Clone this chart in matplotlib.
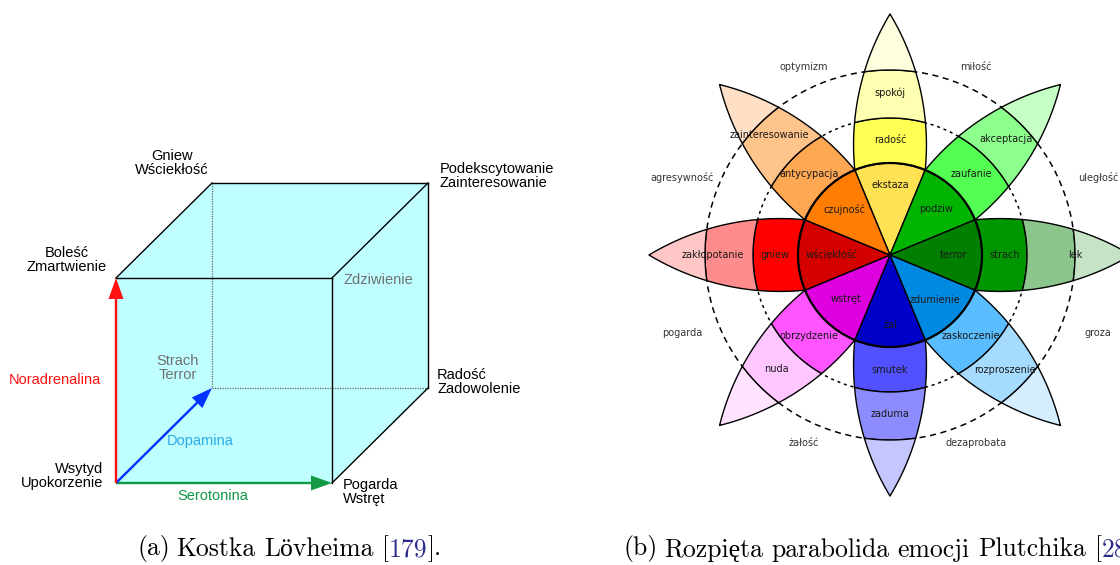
import numpy as np
import matplotlib
matplotlib.use("Agg")
import matplotlib.pyplot as plt
from matplotlib.patches import Polygon, Circle

# ── (a) Lövheim cube: corner (serotonina, dopamina, noradrenalina) -> emotions
CUBE_CORNERS = [(0, 0, 0), (1, 0, 0), (0, 1, 0), (0, 0, 1),
                (1, 1, 0), (0, 1, 1), (1, 0, 1), (1, 1, 1)]
CUBE_LABELS = ["Wsytyd\nUpokorzenie", "Pogarda\nWstręt", "Strach\nTerror",
               "Boleść\nZmartwienie", "Radość\nZadowolenie", "Gniew\nWściekłość",
               "Zdziwienie", "Podekscytowanie\nZainteresowanie"]
AXIS_NAMES = ["Serotonina", "Dopamina", "Noradrenalina"]

# ── (b) Plutchik wheel: petals by angle (deg), labels inner -> outer
PETAL_ANGLES = [90, 45, 0, -45, -90, -135, 180, 135]
PETAL_LABELS = [
    ["ekstaza", "radość", "spokój"],
    ["podziw", "zaufanie", "akceptacja"],
    ["terror", "strach", "lęk"],
    ["zdumienie", "zaskoczenie", "rozproszenie"],
    ["żal", "smutek", "zaduma"],
    ["wstręt", "obrzydzenie", "nuda"],
    ["wściekłość", "gniew", "zakłopotanie"],
    ["czujność", "antycypacja", "zainteresowanie"],
]
PETAL_COLORS = [
    ["#ffe154", "#ffff54", "#ffffb1", "#ffffe0"],
    ["#00b400", "#54ff54", "#8cff8c", "#c6ffc6"],
    ["#007f00", "#009600", "#8cc68c", "#c6e3c6"],
    ["#0089e0", "#59bdff", "#a5dbff", "#d5eeff"],
    ["#0000c8", "#5151ff", "#8c8cff", "#c6c6ff"],
    ["#de00de", "#ff54ff", "#ffc6ff", "#ffe3ff"],
    ["#d40000", "#ff0000", "#ff8c8c", "#ffc6c6"],
    ["#ff7d00", "#ffa854", "#ffc48c", "#ffe0c6"],
]
DYAD_ANGLES = [112.5, 67.5, 22.5, -22.5, -67.5, -112.5, -157.5, 157.5]
DYAD_LABELS = ["optymizm", "miłość", "uległość", "groza",
               "dezaprobata", "żałość", "pogarda", "agresywność"]

CAPTION_A = [("(a)", "black"), ("Kostka", "black"), ("Lövheima", "black"),
             ("[", "black"), ("179", "#2b2b8c"), ("].", "black")]
CAPTION_B = [("(b)", "black"), ("Rozpięta", "black"), ("parabolida", "black"),
             ("emocji", "black"), ("Plutchika", "black"),
             ("[", "black"), ("28", "#2b2b8c"), ("].", "black")]

# ── layout (pixels)
W, H = 1120, 565
ORIGIN = (116, 483)
STEP_S, STEP_N, DEPTH = 216, 205, (96, -95)
CX, CY = 890, 255
RINGS = [0, 92, 137, 185, 241]
INNER_R = [70, 65, 63, 64, 70, 62, 58, 64]
MID_R = 115
OUTER_R = [162, 164, 185, 162, 159, 161, 177, 170]
DYAD_RX, DYAD_RY = 225, 203
UC = 110          # centre (along petal axis) of the petal edge arc

SANS = "Liberation Sans"
WHEEL_FONT = "DejaVu Sans"
SERIF = ["cmr10", "Liberation Serif"]
CAP_SIZE = 18.5


def project(c):
    s, d, n = c
    return (ORIGIN[0] + STEP_S * s + DEPTH[0] * d,
            ORIGIN[1] - STEP_N * n + DEPTH[1] * d)


# petal edge: straight wedge inside the core, then a circular arc to the tip
half0 = np.radians(22.5)
u0, v0 = RINGS[1] * np.cos(half0), RINGS[1] * np.sin(half0)
tip = RINGS[-1]
vc = ((u0 - UC) ** 2 + v0 ** 2 - (tip - UC) ** 2) / (2 * v0)
rc = np.hypot(tip - UC, vc)
uu = np.linspace(u0, tip, 500)
vv = vc + np.sqrt(np.clip(rc ** 2 - (uu - UC) ** 2, 0, None))
edge_r = np.hypot(uu, vv)
edge_phi = np.arctan2(vv, uu)


def half_angle(r):
    r = np.asarray(r, dtype=float)
    return np.where(r <= RINGS[1], half0, np.interp(r, edge_r, edge_phi))


def to_px(r, a):
    return np.column_stack([CX + r * np.cos(a), CY - r * np.sin(a)])


def band(theta, ra, rb):
    rs = np.linspace(ra, rb, 80)
    h = half_angle(rs)
    pts = [to_px(rs, theta + h)]
    arc = np.linspace(theta + h[-1], theta - h[-1], 60)
    pts.append(to_px(np.full_like(arc, rb), arc))
    pts.append(to_px(rs[::-1], theta - h[::-1]))
    if ra > 0:
        arc = np.linspace(theta - h[0], theta + h[0], 60)
        pts.append(to_px(np.full_like(arc, ra), arc))
    return np.vstack(pts)


fig = plt.figure(figsize=(W / 100, H / 100), dpi=100)
ax = fig.add_axes([0, 0, 1, 1])
ax.set_xlim(0, W)
ax.set_ylim(H, 0)
ax.axis("off")

# ── panel (a): cube ─────────────────────────
P = {c: project(c) for c in CUBE_CORNERS}
hull = [P[(0, 0, 1)], P[(0, 1, 1)], P[(1, 1, 1)], P[(1, 1, 0)], P[(1, 0, 0)], P[(0, 0, 0)]]
ax.add_patch(Polygon(hull, closed=True, facecolor="#bfffff", edgecolor="none", zorder=1))

hidden = [((0, 1, 1), (0, 1, 0)), ((0, 1, 0), (1, 1, 0))]
for a, b in hidden:
    ax.plot(*zip(P[a], P[b]), color="#666666", lw=0.9, ls=(0, (1, 1)), zorder=2)

solid = [((0, 0, 1), (1, 0, 1)), ((1, 0, 1), (1, 0, 0)), ((0, 0, 1), (0, 1, 1)),
         ((0, 1, 1), (1, 1, 1)), ((1, 0, 1), (1, 1, 1)), ((1, 1, 1), (1, 1, 0)),
         ((1, 1, 0), (1, 0, 0))]
for a, b in solid:
    ax.plot(*zip(P[a], P[b]), color="black", lw=1.0, zorder=3)

arrow_colors = ["#119944", "#0033ff", "#ff1111"]
for axis_i, col in enumerate(arrow_colors):
    end = [0, 0, 0]
    end[axis_i] = 1
    x0, y0 = P[(0, 0, 0)]
    x1, y1 = P[tuple(end)]
    ax.arrow(x0, y0, x1 - x0, y1 - y0, width=2.4, head_width=15, head_length=21,
             length_includes_head=True, color=col, lw=0, zorder=4)

label_style = {
    (0, 0, 0): dict(off=(-13, -7), ha="right", color="black"),
    (1, 0, 0): dict(off=(11, 9), ha="left", color="black"),
    (0, 1, 0): dict(off=(-34, -20), ha="center", color="#707070"),
    (0, 0, 1): dict(off=(-49, -18), ha="center", color="black"),
    (1, 1, 0): dict(off=(9, -6), ha="left", color="black"),
    (0, 1, 1): dict(off=(-40, -20), ha="center", color="black"),
    (1, 0, 1): dict(off=(12, 2), ha="left", color="#707070"),
    (1, 1, 1): dict(off=(12, -7), ha="left", color="black"),
}
for c, txt in zip(CUBE_CORNERS, CUBE_LABELS):
    st = label_style[c]
    x, y = P[c]
    ax.text(x + st["off"][0], y + st["off"][1], txt, ha=st["ha"], va="center",
            multialignment=st["ha"], color=st["color"], fontsize=10.5,
            family=SANS, linespacing=1.0, zorder=5)

ax.text(213, 496, AXIS_NAMES[0], color="#119944", fontsize=10.5, family=SANS,
        ha="center", va="center")
ax.text(200, 441, AXIS_NAMES[1], color="#2aaae8", fontsize=10.5, family=SANS,
        ha="center", va="center", zorder=5)
ax.text(101, 380, AXIS_NAMES[2], color="#ff1111", fontsize=10.5, family=SANS,
        ha="right", va="center")

# ── panel (b): Plutchik wheel ────────────────
ax.add_patch(Circle((CX, CY), RINGS[2], fill=False, ec="black", lw=1.1,
                    ls=(0, (2, 2.5)), zorder=1))
ax.add_patch(Circle((CX, CY), RINGS[3], fill=False, ec="black", lw=1.1,
                    ls=(0, (4, 3)), zorder=1))

for i, (ang, cols, labs) in enumerate(zip(PETAL_ANGLES, PETAL_COLORS, PETAL_LABELS)):
    th = np.radians(ang)
    for k in range(4):
        ax.add_patch(Polygon(band(th, RINGS[k], RINGS[k + 1]), closed=True,
                             facecolor=cols[k], edgecolor="black", lw=1.0,
                             joinstyle="round", zorder=2))
    for lab, r in zip(labs, [INNER_R[i], MID_R, OUTER_R[i]]):
        ax.text(CX + r * np.cos(th), CY - r * np.sin(th), lab,
                ha="center", va="center", fontsize=7, family=WHEEL_FONT,
                color="#1a1a1a", zorder=4)

ax.add_patch(Circle((CX, CY), RINGS[1], fill=False, ec="black", lw=1.6, zorder=3))

for ang, lab in zip(DYAD_ANGLES, DYAD_LABELS):
    th = np.radians(ang)
    ax.text(CX + DYAD_RX * np.cos(th), CY - DYAD_RY * np.sin(th), lab,
            ha="center", va="center", fontsize=7, family=WHEEL_FONT, color="#333333")


# ── captions (word by word, so the colours can change) ──
def caption(x, y, parts, space):
    t = ax.text(x, y, parts[0][0], color=parts[0][1], fontsize=CAP_SIZE,
                family=SERIF, ha="left", va="center")
    for i, (s, c) in enumerate(parts[1:]):
        gap = 0 if s in ("179", "28", "].") else space
        if i == 0:
            gap = space - 2      # "(x)" box already carries some side bearing
        t = ax.annotate(s, xy=(1, 0), xycoords=t, xytext=(gap, 0),
                        textcoords="offset pixels", ha="left", va="bottom",
                        color=c, fontsize=CAP_SIZE, family=SERIF)


caption(137, 548, CAPTION_A, 8.5)
caption(623, 548, CAPTION_B, 8.5)

fig.savefig("out.png", dpi=100)
